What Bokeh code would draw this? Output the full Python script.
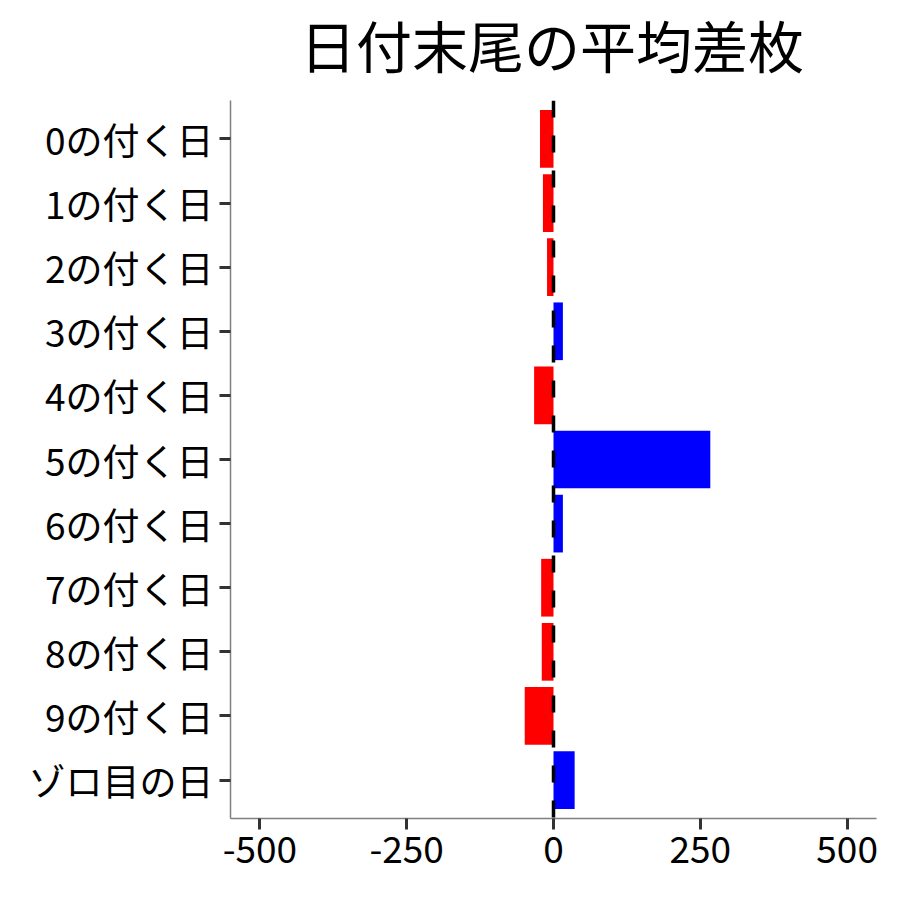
from bokeh.plotting import figure
from bokeh.models import ColumnDataSource, FactorRange, Range1d, Span, FixedTicker, Label
from bokeh.embed import file_html
from bokeh.resources import INLINE

# data
categories = ["0の付く日", "1の付く日", "2の付く日", "3の付く日", "4の付く日",
              "5の付く日", "6の付く日", "7の付く日", "8の付く日", "9の付く日", "ゾロ目の日"]
values = [-23, -18, -11, 16, -33, 267, 16, -21, -20, -49, 36]
x_ticks = [-500, -250, 0, 250, 500]
x_tick_labels = ["-500", "-250", "0", "250", "500"]
title_text = "日付末尾の平均差枚"

FONT = "Noto Sans CJK JP"
FW, FH = 646, 718

src = ColumnDataSource(dict(
    cat=categories,
    val=values,
    color=["#0000FF" if v > 0 else "#FF0000" for v in values],
))

p = figure(
    output_backend="svg", toolbar_location=None,
    width=884, height=884,
    frame_width=FW, frame_height=FH,
    min_border_left=230, min_border_right=8, min_border_top=100, min_border_bottom=60,
    x_range=Range1d(-550, 550),
    y_range=FactorRange(factors=list(reversed(categories)), range_padding=0.1,
                        range_padding_units="absolute"),
    title=None,
)

p.hbar(y="cat", right="val", left=0, height=0.9, color="color", line_color=None, source=src)

p.add_layout(Span(location=0, dimension="height", line_color="black",
                  line_width=3.5, line_dash="17 18"))

title_label = Label(x=FW / 2 - 1.5, y=57, x_units="screen", y_units="screen",
                    text=title_text, text_align="center", text_baseline="middle",
                    text_font=FONT, text_font_size="56px", text_color="black")
p.add_layout(title_label, "above")

p.xgrid.visible = False
p.ygrid.visible = False
p.outline_line_color = None
p.background_fill_color = "white"
p.border_fill_color = "white"

p.xaxis.ticker = FixedTicker(ticks=x_ticks)
p.xaxis.major_label_overrides = {t_: l for t_, l in zip(x_ticks, x_tick_labels)}
for ax in (p.xaxis[0], p.yaxis[0]):
    ax.axis_line_color = "#7f7f7f"
    ax.axis_line_width = 1.5
    ax.major_tick_line_color = "#333333"
    ax.major_tick_line_width = 3
    ax.major_tick_in = 0
    ax.major_tick_out = 11
    ax.minor_tick_line_color = None
    ax.major_label_text_font = FONT
    ax.major_label_text_font_size = "37px"
    ax.major_label_text_color = "black"
    ax.major_label_standoff = 6

out = file_html(p, INLINE)
open("out.html", "w").write(out)
